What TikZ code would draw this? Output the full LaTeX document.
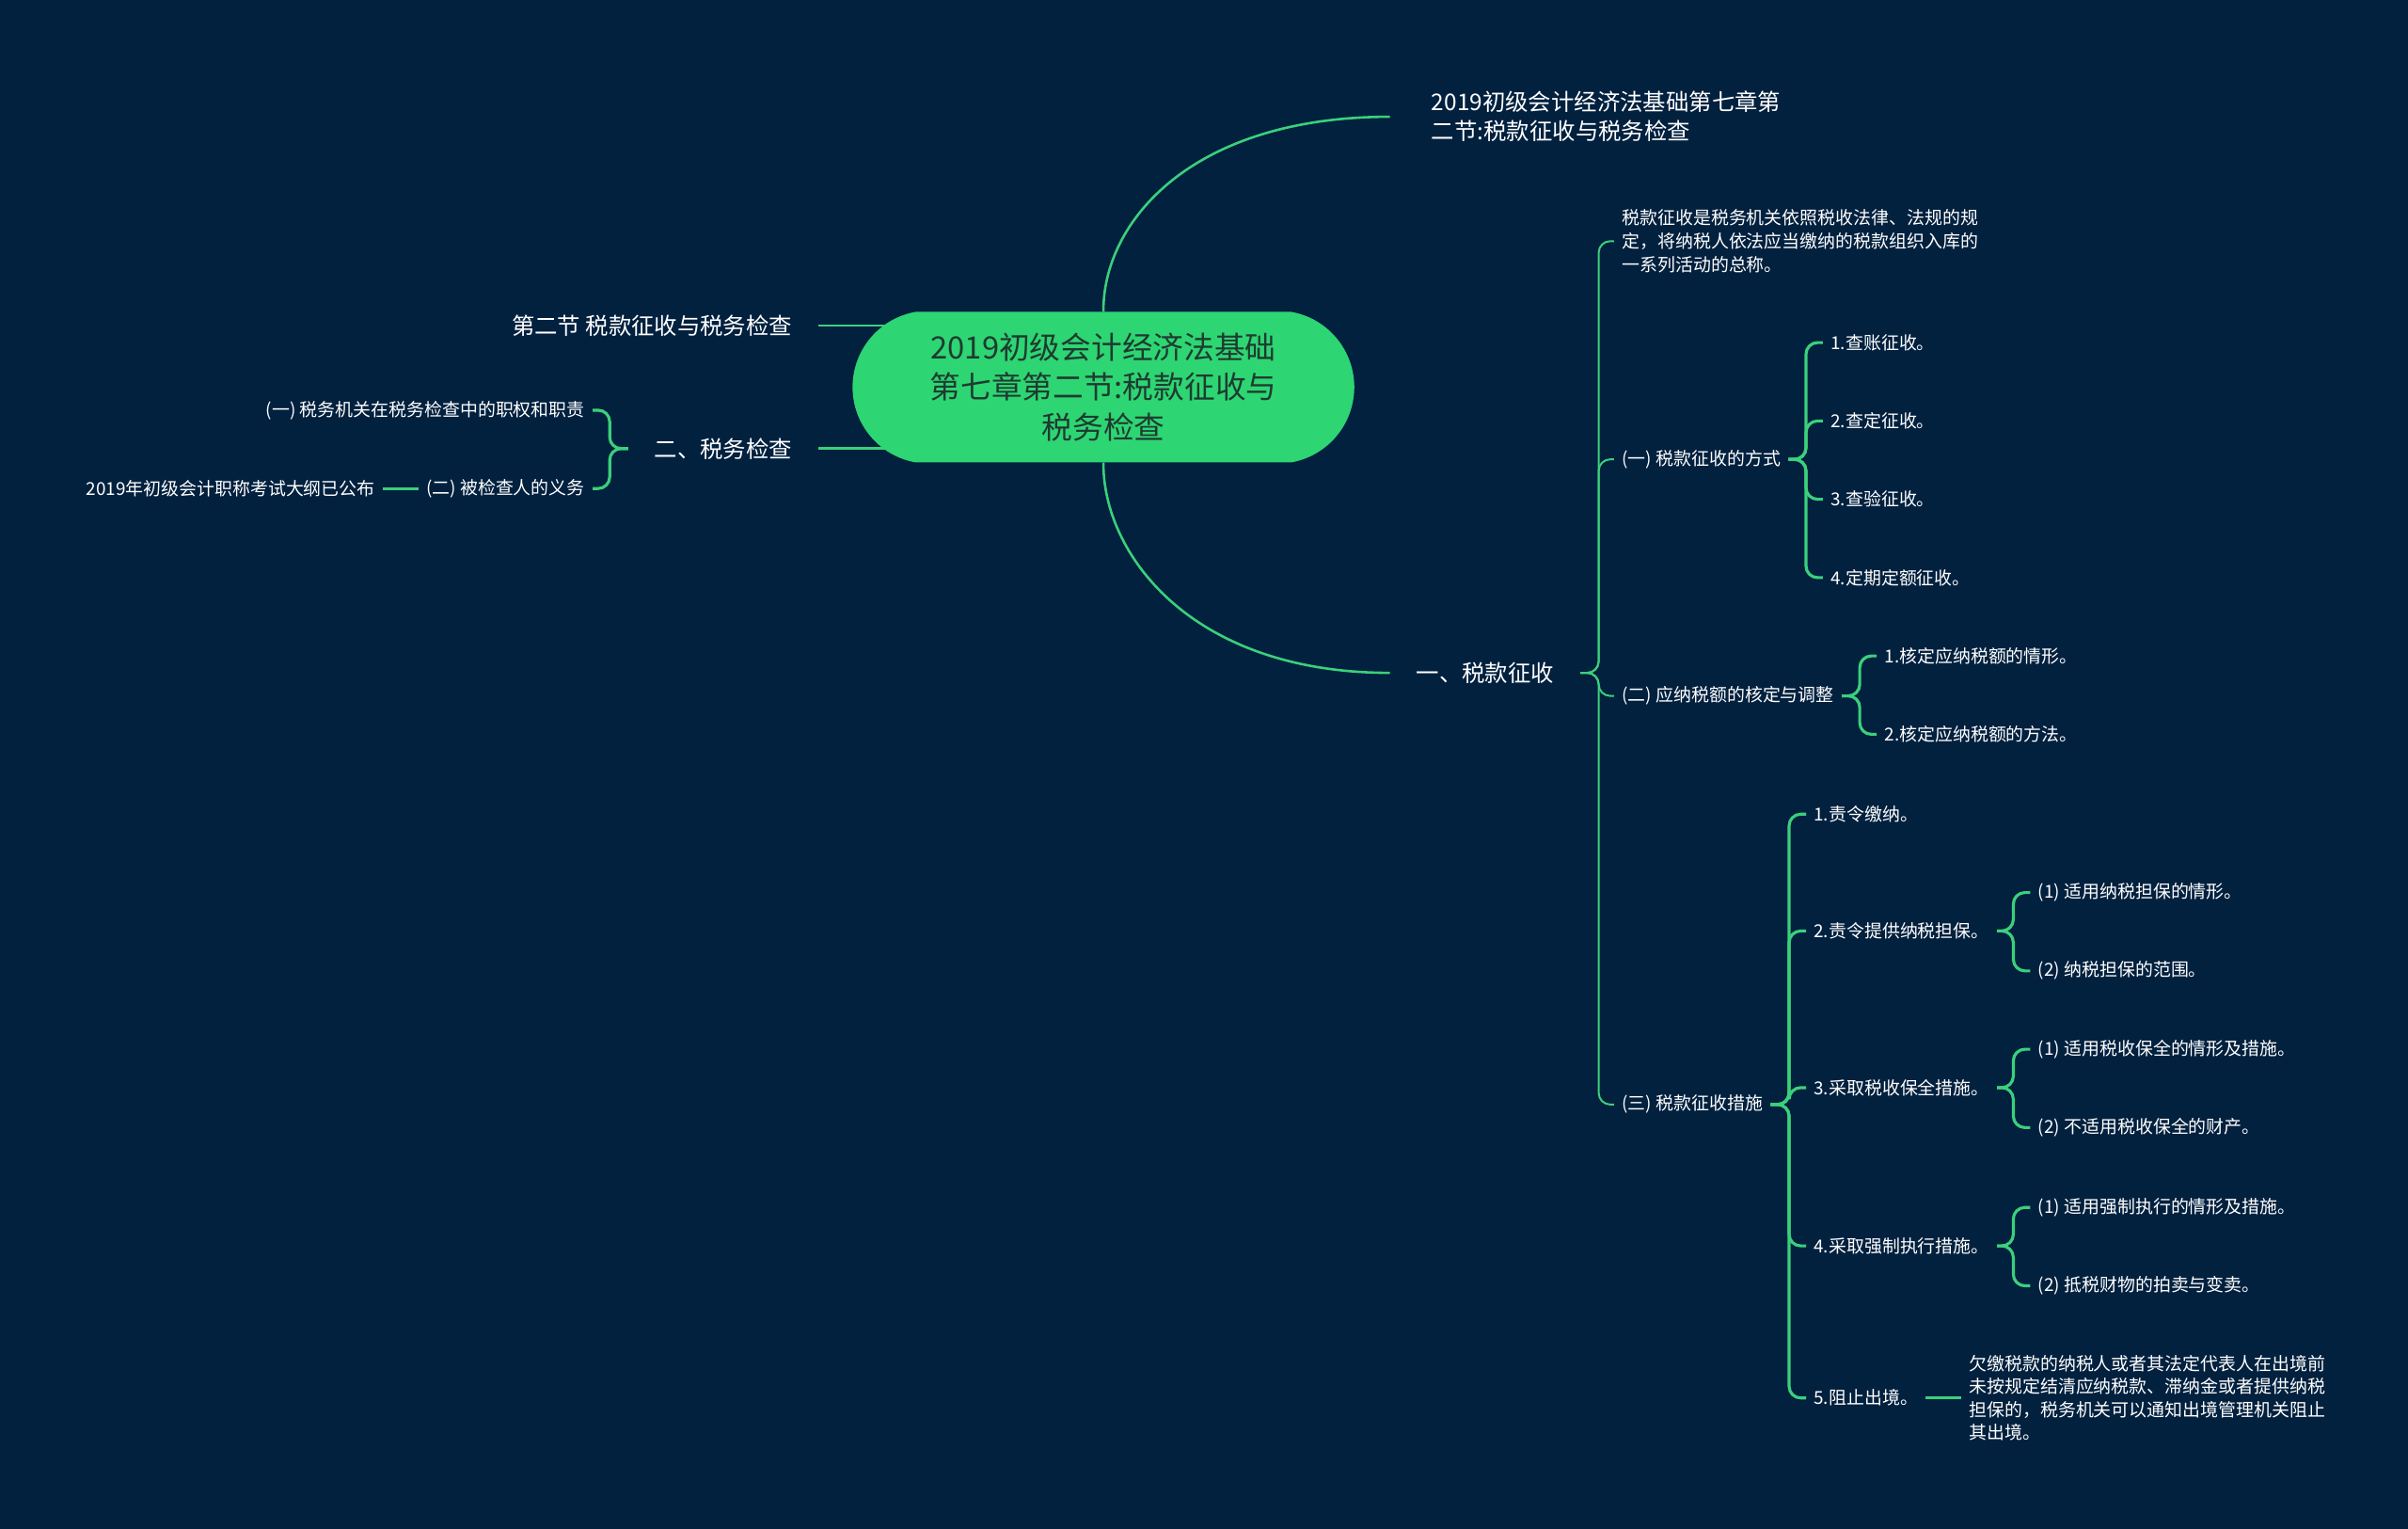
\documentclass[tikz,border=0pt]{standalone}
\usepackage{fontspec}
\setmainfont{Noto Sans CJK SC}
\usepackage{tikz}
\usetikzlibrary{backgrounds,positioning,shapes.misc}
\usepackage{xcolor}
\definecolor{navy}{HTML}{02213F}
\definecolor{mint}{HTML}{2ED573}
\definecolor{stem}{HTML}{3BD07B}
\definecolor{rootink}{HTML}{1E3B30}

\begin{document}
\begin{tikzpicture}[
    x=0.04cm, y=-0.04cm,
    central/.style={rounded rectangle, rounded rectangle arc length=160, fill=mint, minimum width=13.3cm, minimum height=3.92cm, align=center, text=rootink, font=\fontsize{22.8}{29.6}\selectfont},
    topic/.style={text=white, inner xsep=0.68cm, inner ysep=2pt, font=\fontsize{17}{21.6}\selectfont},
    entry/.style={text=white, inner xsep=0.2cm, inner ysep=2pt, font=\fontsize{13.2}{17.1}\selectfont},
    bough/.style={draw=stem, line width=1.8pt},
    twig/.style={draw=stem, line width=1.4pt, rounded corners=0.3cm},
    fork/.style={draw=stem, line width=2.2pt, rounded corners=0.3cm},
]
\useasboundingbox (0,0) rectangle (1568,995);

% Central topic
\node[central] (central) at (718.5,252) {2019初级会计经济法基础\\第七章第二节:税款征收与\\税务检查};

% Right side
\node[topic, anchor=west, inner xsep=1.08cm, align=left] (title) at (905,76) {2019初级会计经济法基础第七章第\\二节:税款征收与税务检查};
\node[topic, anchor=west] (collect) at (905,438) {一、税款征收};

\node[entry, anchor=west, align=left] (define) at (1051,157) {税款征收是税务机关依照税收法律、法规的规\\定，将纳税人依法应当缴纳的税款组织入库的\\一系列活动的总称。};
\node[entry, anchor=west] (mode) at (1051,299) {(一) 税款征收的方式};
\node[entry, anchor=west] (assess) at (1051,453) {(二) 应纳税额的核定与调整};
\node[entry, anchor=west] (measure) at (1051,719) {(三) 税款征收措施};

% Ways of collection
\node[entry, anchor=west] (mode1) at (1187,223) {1.查账征收。};
\node[entry, anchor=west] (mode2) at (1187,274) {2.查定征收。};
\node[entry, anchor=west] (mode3) at (1187,325) {3.查验征收。};
\node[entry, anchor=west] (mode4) at (1187,376) {4.定期定额征收。};

% Assessment
\node[entry, anchor=west] (assess1) at (1222,427) {1.核定应纳税额的情形。};
\node[entry, anchor=west] (assess2) at (1222,478) {2.核定应纳税额的方法。};

% Measures
\node[entry, anchor=west] (measure1) at (1176,530) {1.责令缴纳。};
\node[entry, anchor=west] (measure2) at (1176,606) {2.责令提供纳税担保。};
\node[entry, anchor=west] (measure3) at (1176,708) {3.采取税收保全措施。};
\node[entry, anchor=west] (measure4) at (1176,811) {4.采取强制执行措施。};
\node[entry, anchor=west] (measure5) at (1176,910) {5.阻止出境。};

\node[entry, anchor=west] (guar1) at (1322,581) {(1) 适用纳税担保的情形。};
\node[entry, anchor=west] (guar2) at (1322,632) {(2) 纳税担保的范围。};
\node[entry, anchor=west] (keep1) at (1322,683) {(1) 适用税收保全的情形及措施。};
\node[entry, anchor=west] (keep2) at (1322,734) {(2) 不适用税收保全的财产。};
\node[entry, anchor=west] (force1) at (1322,786) {(1) 适用强制执行的情形及措施。};
\node[entry, anchor=west] (force2) at (1322,837) {(2) 抵税财物的拍卖与变卖。};

\node[entry, align=left, right=0.92cm of measure5] (ban) {欠缴税款的纳税人或者其法定代表人在出境前\\未按规定结清应纳税款、滞纳金或者提供纳税\\担保的，税务机关可以通知出境管理机关阻止\\其出境。};

% Left side
\node[topic, anchor=east] (section) at (533,212) {第二节 税款征收与税务检查};
\node[topic, anchor=east] (inspect) at (533,292) {二、税务检查};
\node[entry, anchor=east] (power) at (386,267) {(一) 税务机关在税务检查中的职权和职责};
\node[entry, anchor=east] (duty) at (386,318) {(二) 被检查人的义务};
\node[entry, left=0.92cm of duty] (notice) {2019年初级会计职称考试大纲已公布};

% Background and lines into the central topic
\begin{pgfonlayer}{background}
\fill[navy] (0,0) rectangle (1568,995);
\draw[bough] (section.east) -- (section.east -| central.center);
\draw[bough] (inspect.east) -- (inspect.east -| central.center);
\end{pgfonlayer}

% Main branches
\draw[bough] (central.north) .. controls (718,145) and (775,76) .. (title.west);
\draw[bough] (central.south) .. controls (718,360) and (775,438) .. (collect.west);

% First-level connectors
\draw[twig] (collect.east) -| ([xshift=-0.4cm]define.west) -- (define.west);
\draw[twig] (collect.east) -| ([xshift=-0.4cm]mode.west) -- (mode.west);
\draw[twig] (collect.east) -| ([xshift=-0.4cm]assess.west) -- (assess.west);
\draw[twig] (collect.east) -| ([xshift=-0.4cm]measure.west) -- (measure.west);

% Brackets
\draw[fork] (mode.east) -| ([xshift=-0.44cm]mode1.west) -- (mode1.west);
\draw[fork] (mode.east) -| ([xshift=-0.44cm]mode2.west) -- (mode2.west);
\draw[fork] (mode.east) -| ([xshift=-0.44cm]mode3.west) -- (mode3.west);
\draw[fork] (mode.east) -| ([xshift=-0.44cm]mode4.west) -- (mode4.west);

\draw[fork] (assess.east) -| ([xshift=-0.44cm]assess1.west) -- (assess1.west);
\draw[fork] (assess.east) -| ([xshift=-0.44cm]assess2.west) -- (assess2.west);

\draw[fork] (measure.east) -| ([xshift=-0.44cm]measure1.west) -- (measure1.west);
\draw[fork] (measure.east) -| ([xshift=-0.44cm]measure2.west) -- (measure2.west);
\draw[fork] (measure.east) -| ([xshift=-0.44cm]measure3.west) -- (measure3.west);
\draw[fork] (measure.east) -| ([xshift=-0.44cm]measure4.west) -- (measure4.west);
\draw[fork] (measure.east) -| ([xshift=-0.44cm]measure5.west) -- (measure5.west);

\draw[fork] (measure2.east) -| ([xshift=-0.44cm]guar1.west) -- (guar1.west);
\draw[fork] (measure2.east) -| ([xshift=-0.44cm]guar2.west) -- (guar2.west);
\draw[fork] (measure3.east) -| ([xshift=-0.44cm]keep1.west) -- (keep1.west);
\draw[fork] (measure3.east) -| ([xshift=-0.44cm]keep2.west) -- (keep2.west);
\draw[fork] (measure4.east) -| ([xshift=-0.44cm]force1.west) -- (force1.west);
\draw[fork] (measure4.east) -| ([xshift=-0.44cm]force2.west) -- (force2.west);
\draw[fork] (measure5.east) -- (ban.west);

\draw[fork] (inspect.west) -| ([xshift=0.44cm]power.east) -- (power.east);
\draw[fork] (inspect.west) -| ([xshift=0.44cm]duty.east) -- (duty.east);
\draw[fork] (notice.east) -- (duty.west);

\end{tikzpicture}
\end{document}
